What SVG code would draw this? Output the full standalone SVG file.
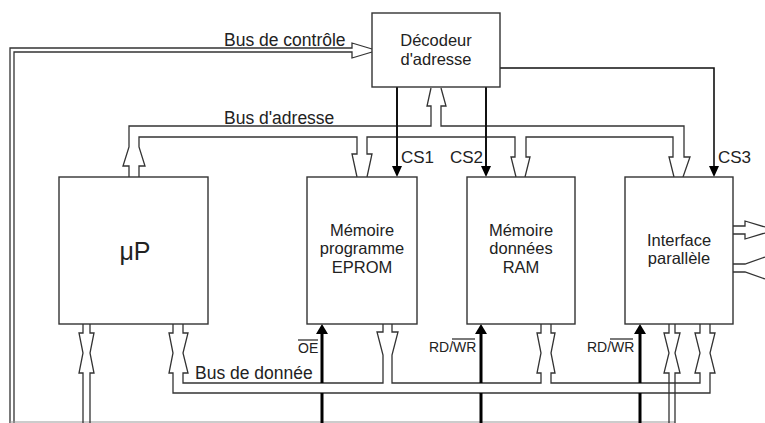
<svg xmlns="http://www.w3.org/2000/svg" width="765" height="423" viewBox="0 0 765 423">
<defs>
<style>
.box{fill:#fff;stroke:#333;stroke-width:1.4}
.bus{fill:none;stroke:#333;stroke-width:1.3;stroke-linejoin:miter}
.sig{fill:none;stroke:#111;stroke-width:2}
.thick{fill:none;stroke:#000;stroke-width:3}
.head{fill:#000;stroke:none}
.t{font-family:"Liberation Sans",Arial,sans-serif;fill:#222;font-size:17.5px}
.b{font-size:16.5px}
.c{text-anchor:middle}
.s{font-size:14px}
.ov{stroke:#222;stroke-width:1.2}
</style>
</defs>
<rect width="765" height="423" fill="#fff"/>
<g id="connectors">
  <!-- control bus -->
  <path class="bus" d="M10,423 V48 H352 V43 L372,49"/>
  <path class="bus" d="M14,423 V52 H352 V58 L372,52"/>
  <path d="M10,422 H675" stroke="#999" stroke-width="1" fill="none"/>
  <!-- address bus -->
  <path class="bus" d="M129,177 V166 H123 L129,147 V126 H431 V106 H427 L431,88"/>
  <path class="bus" d="M441,88 L446,106 H441 V126 H684 V157 H690 L683,177"/>
  <path class="bus" d="M139,177 V166 H145 L139,147 V137 H357 V154 H352 L357,177"/>
  <path class="bus" d="M367,177 L372,154 H367 V137 H515 V157 H511 L516,177"/>
  <path class="bus" d="M525,177 L530,157 H526 V137 H673 V157 H669 L674,177"/>
  <!-- chip selects -->
  <path class="sig" d="M397,87 V168"/>
  <polygon class="head" points="392,166 402,166 397,177"/>
  <path class="sig" d="M486,87 V168"/>
  <polygon class="head" points="481,166 491,166 486,177"/>
  <path class="sig" style="stroke-width:1.6" d="M500,68 H714 V168"/>
  <polygon class="head" points="709,166 719,166 714,177"/>
  <!-- data bus -->
  <path class="bus" d="M183,324 V333 H188 L183,353 L188,373 H183 V383 H383 V355 L377,332 H383 V324"/>
  <path class="bus" d="M392,324 V332 H398 L392,355 V383 H541 V373 H537 L541,353 L537,333 H541 V324"/>
  <path class="bus" d="M551,324 V333 H555 L551,353 L555,373 H551 V383 H700 V373 H695 L700,353 L695,333 H700 V324"/>
  <path class="bus" d="M173,324 V333 H169 L173,353 L169,373 H173 V393 H710 V373 H715 L710,353 L715,333 H710 V324"/>
  <!-- control links -->
  <path class="bus" d="M83,324 V333 H79 L83,353 L79,373 H83 V423"/>
  <path class="bus" d="M90,324 V333 H94 L90,353 L94,373 H90 V423"/>
  <path class="bus" d="M669,324 V333 H664 L669,353 L664,373 H669 V423"/>
  <path class="bus" d="M675,324 V333 H680 L675,353 L680,373 H675 V423"/>
  <!-- OE, RD/WR -->
  <path class="thick" d="M322,423 V393 M322,383 V332"/>
  <polygon class="head" points="316,334 328,334 322,324"/>
  <path class="thick" d="M481,423 V393 M481,383 V332"/>
  <polygon class="head" points="475,334 487,334 481,324"/>
  <path class="thick" d="M640,423 V393 M640,383 V332"/>
  <polygon class="head" points="634,334 646,334 640,324"/>
  <!-- parallel port -->
  <path class="bus" d="M733,226 H745 V221 L765,227"/>
  <path class="bus" d="M733,234 H745 V239 L765,233"/>
  <path class="bus" d="M733,264 H745 L765,257"/>
  <path class="bus" d="M733,272 H745 L765,279"/>
  <!-- labels -->
  <text class="t" x="224" y="46">Bus de contrôle</text>
  <text class="t" x="224" y="124">Bus d'adresse</text>
  <text class="t" x="195" y="379">Bus de donnée</text>
  <text class="t" x="401" y="163" style="font-size:17px">CS1</text>
  <text class="t" x="450" y="163" style="font-size:17px">CS2</text>
  <text class="t" x="718" y="163" style="font-size:17px">CS3</text>
  <text class="t s" x="298" y="353">OE</text>
  <line class="ov" x1="298" y1="340" x2="318" y2="340"/>
  <text class="t s" x="429" y="352">RD/WR</text>
  <line class="ov" x1="452" y1="339" x2="475" y2="339"/>
  <text class="t s" x="587" y="352">RD/WR</text>
  <line class="ov" x1="610" y1="339" x2="633" y2="339"/>
</g>
<g id="decodeur">
  <rect class="box" x="372" y="13" width="128" height="74"/>
  <text class="t b c" x="436" y="46">Décodeur</text>
  <text class="t b c" x="436" y="64.5">d'adresse</text>
</g>
<g id="up">
  <rect class="box" x="59" y="177" width="149" height="147"/>
  <text class="t c" x="135" y="260" style="font-size:25px">μP</text>
</g>
<g id="eprom">
  <rect class="box" x="307" y="177" width="110" height="147"/>
  <text class="t b c" x="362" y="235.5">Mémoire</text>
  <text class="t b c" x="362" y="254">programme</text>
  <text class="t b c" x="362" y="272.5">EPROM</text>
</g>
<g id="ram">
  <rect class="box" x="467" y="177" width="108" height="147"/>
  <text class="t b c" x="521" y="235.5">Mémoire</text>
  <text class="t b c" x="521" y="254">données</text>
  <text class="t b c" x="521" y="272.5">RAM</text>
</g>
<g id="interface">
  <rect class="box" x="625" y="177" width="108" height="147"/>
  <text class="t b c" x="679" y="245.5">Interface</text>
  <text class="t b c" x="679" y="264">parallèle</text>
</g>
</svg>
